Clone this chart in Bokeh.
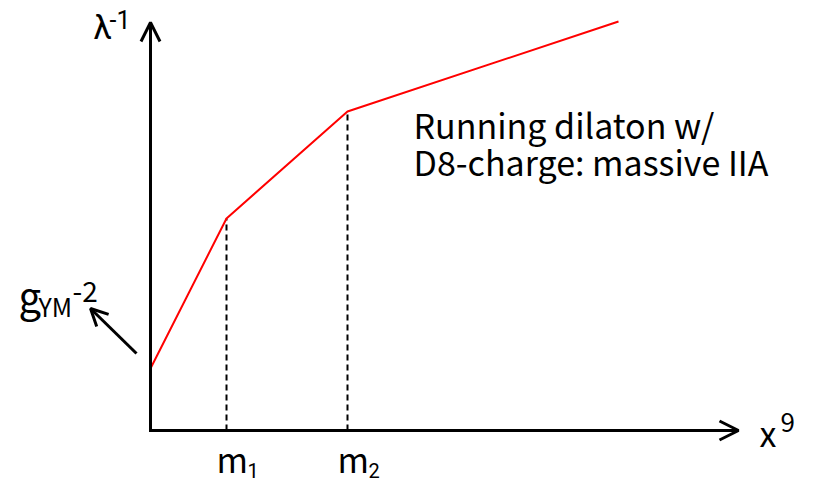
from bokeh.plotting import figure
from bokeh.models import Range1d, Arrow, OpenHead
from bokeh.core.properties import value
from bokeh.embed import file_html
from bokeh.resources import INLINE

# ---- data (schematic units: origin at axes corner) ----
x_knots = [0, 76, 197, 468]          # start, m1, m2, end
y_knots = [62, 212, 319, 409]        # lambda^-1 values at knots
break_labels = ["m", "m"]
break_subs = ["1", "2"]
x_axis_end = 588
y_axis_end = 408
note_lines = ["Running dilaton w/", "D8-charge: massive IIA"]

FONT = "Noto Sans CJK KR"
FONT_TOP = "Roboto"
# renderer places the alphabetic baseline low; per-font correction (fraction of size)
BASE_FIX = {FONT: 0.38, FONT_TOP: 0.25}

p = figure(width=813, height=484, x_range=Range1d(-150, 663), y_range=Range1d(-54, 430),
           output_backend="svg", toolbar_location=None, min_border=0,
           x_axis_type=None, y_axis_type=None)
p.grid.visible = False
p.outline_line_color = None
p.background_fill_color = "white"
p.border_fill_color = "white"

# dashed verticals at m1, m2
p.segment(x0=x_knots[1:3], y0=[0, 0], x1=x_knots[1:3], y1=y_knots[1:3],
          line_color="black", line_width=2, line_dash="6 4")

# red running line
p.line(x_knots, y_knots, line_color="red", line_width=2)

# axes with arrows
p.add_layout(Arrow(end=OpenHead(size=19, line_width=3, line_color="black"),
                   x_start=0, y_start=-1.5, x_end=0, y_end=y_axis_end,
                   line_width=3, line_color="black"))
p.add_layout(Arrow(end=OpenHead(size=19, line_width=3, line_color="black"),
                   x_start=-1.5, y_start=0, x_end=x_axis_end, y_end=0,
                   line_width=3, line_color="black"))
# g_YM arrow
p.add_layout(Arrow(end=OpenHead(size=17, line_width=3, line_color="black"),
                   x_start=-14, y_start=77, x_end=-60, y_end=122,
                   line_width=3, line_color="black"))

def txt(x, y, s, size, font=FONT):
    p.text(x=[x], y=[y + BASE_FIX[font] * size], text=[s], text_font=value(font),
           text_font_size=f"{size}px", text_align="left", text_baseline="alphabetic",
           text_color="black")

# axis labels
txt(-57, 395, "λ", 33, FONT_TOP)
txt(-41, 405, "-1", 25, FONT_TOP)
txt(609, -15, "x", 34)
txt(630, -2, "9", 26)

# break labels
for xk, lab, sub in zip(x_knots[1:3], break_labels, break_subs):
    txt(xk - 10, -41, lab, 34)
    txt(xk + 21, -45, sub, 20, FONT_TOP)

# g_YM^-2
txt(-132, 120, "g", 40)
txt(-112, 115, "YM", 25)
txt(-78, 128, "-2", 28)

# annotation
txt(263, 293, note_lines[0], 34)
txt(263, 256, note_lines[1], 34)

open("out.html", "w").write(file_html(p, INLINE))
